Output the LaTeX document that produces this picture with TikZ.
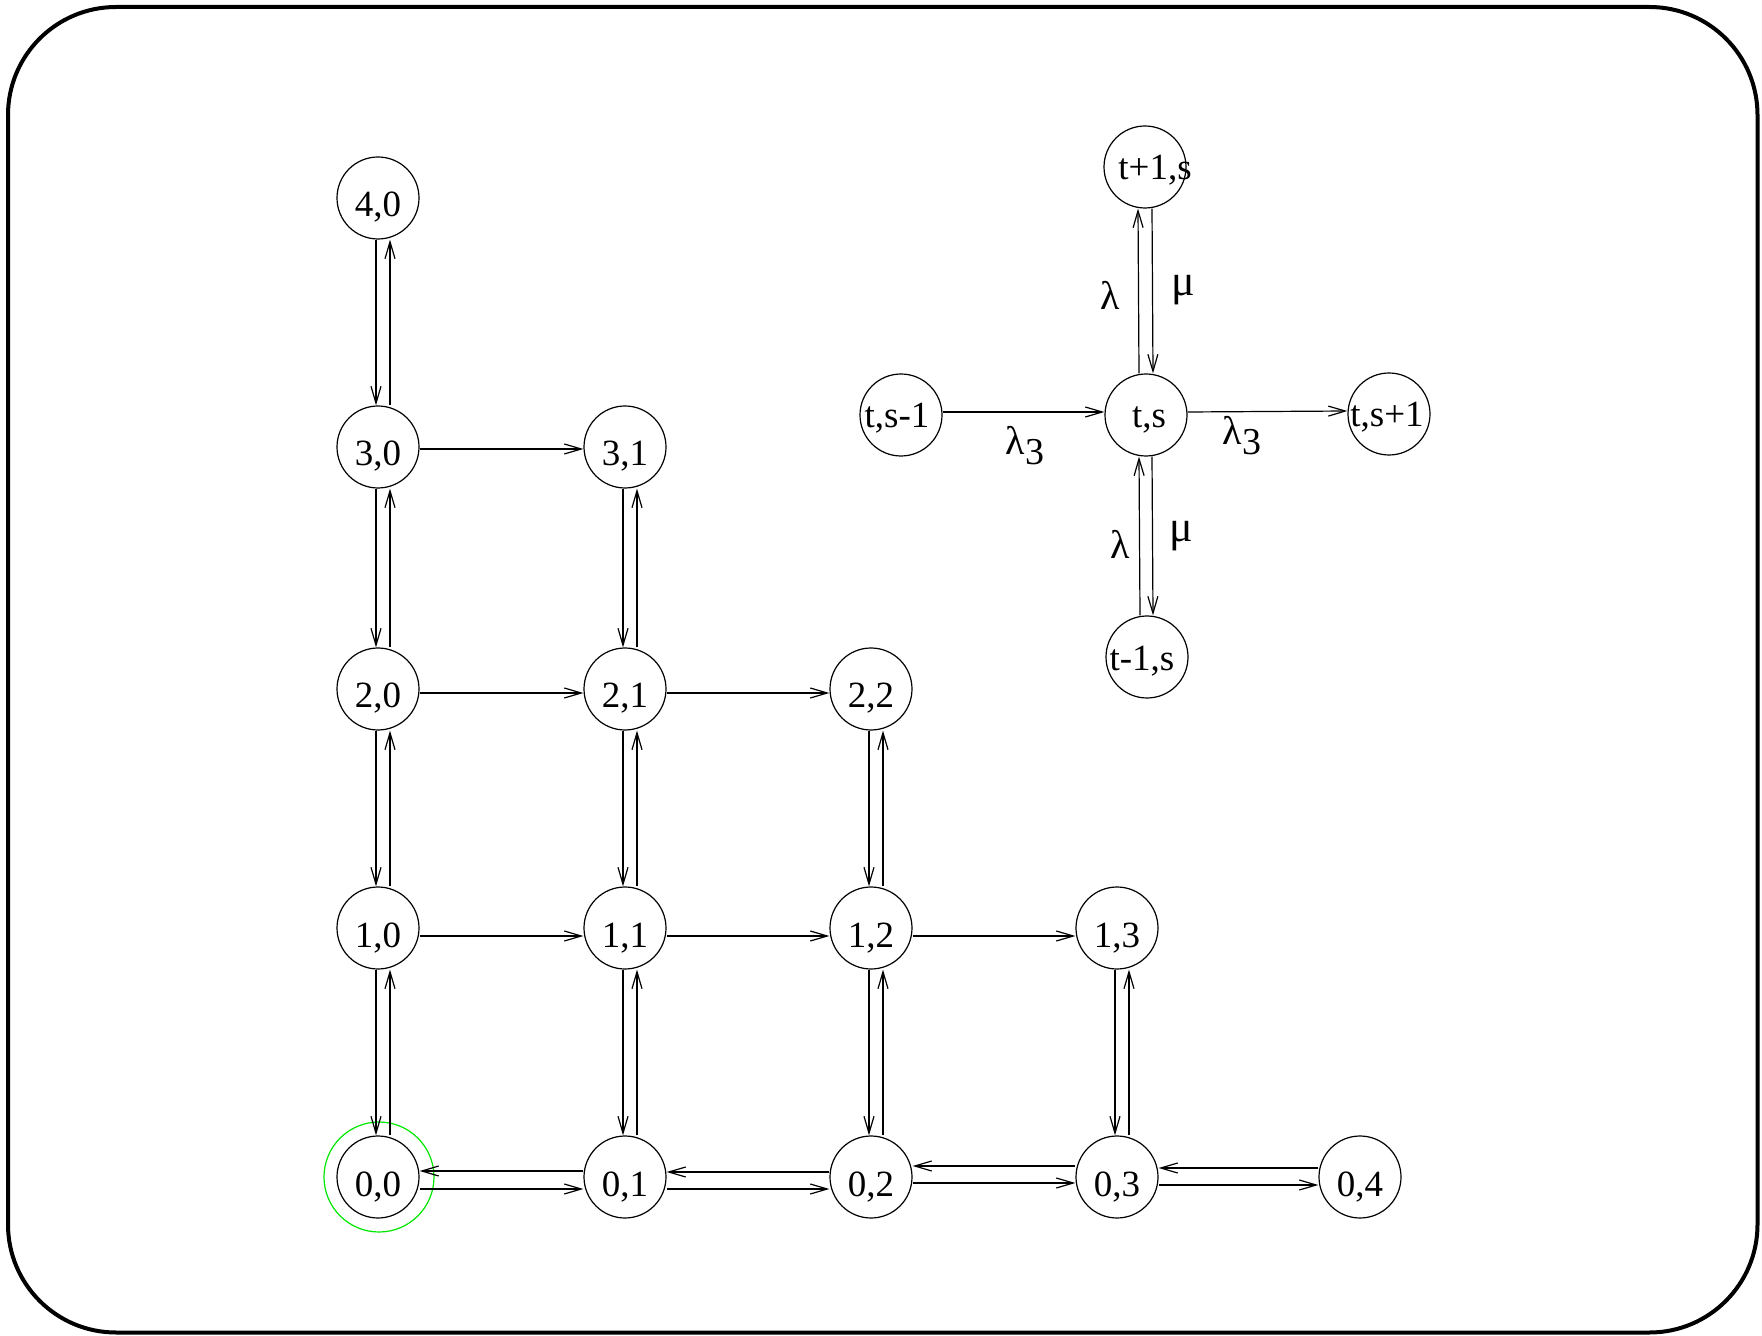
\documentclass[tikz,border=0pt]{standalone}
\usepackage{fontspec}
\setmainfont{Liberation Serif}
\usetikzlibrary{arrows.meta}

% rate label with a lowered 3
\newcommand{\lamthree}{λ\raisebox{-5pt}{\fontsize{19pt}{20pt}\selectfont 3}}
% text shifted sideways inside a fixed-size circle
\newcommand{\shifted}[2]{\makebox[0pt]{\hspace*{#1}#2}}

\begin{document}
\begin{tikzpicture}[x=0.5pt,y=-0.5pt,
  line width=0.6pt,
  >={Straight Barb[length=8.5pt,width=5pt]},
  gridstate/.style={circle,draw,minimum size=41pt,inner sep=0pt,
    text height=19pt,text depth=0pt,font=\fontsize{18.5pt}{20pt}\selectfont},
  crossstate/.style={gridstate,text height=13pt,font=\fontsize{18.5pt}{20pt}\selectfont},
  ratelabel/.style={inner sep=0pt,font=\fontsize{20pt}{22pt}\selectfont},
  mulabel/.style={inner sep=0pt,font=\fontsize{22pt}{24pt}\selectfont},
  outerframe/.style={line width=2pt,rounded corners=54pt},
  startring/.style={circle,draw={rgb,255:red,0;green,230;blue,0},line width=0.6pt,
    minimum size=55pt,inner sep=0pt}
]
\useasboundingbox (0,0) rectangle (1762,1336);
\draw[outerframe] (8,7) rectangle (1757.5,1332.5);

% ---- state grid ----
\node[gridstate] (n40) at (378,198)  {4,0};
\node[gridstate] (n30) at (378,447)  {3,0};
\node[gridstate] (n31) at (625,447)  {3,1};
\node[gridstate] (n20) at (378,689)  {2,0};
\node[gridstate] (n21) at (625,689)  {2,1};
\node[gridstate] (n22) at (871,689)  {2,2};
\node[gridstate] (n10) at (378,928)  {1,0};
\node[gridstate] (n11) at (625,928)  {1,1};
\node[gridstate] (n12) at (871,928)  {1,2};
\node[gridstate] (n13) at (1117,928) {1,3};
\node[gridstate] (n00) at (378,1177) {0,0};
\node[gridstate] (n01) at (625,1177) {0,1};
\node[gridstate] (n02) at (871,1177) {0,2};
\node[gridstate] (n03) at (1117,1177) {0,3};
\node[gridstate] (n04) at (1360,1177) {0,4};
\node[startring] (ring) at (379,1177) {};

% vertical transitions: down on the left, up on the right
\foreach \a/\b in {n40/n30,n30/n20,n20/n10,n10/n00,
                   n31/n21,n21/n11,n11/n01,
                   n22/n12,n12/n02,
                   n13/n03} {
  \draw[->] ([xshift=-1pt]\a.south) -- ([xshift=-1pt]\b.north);
  \draw[->] ([xshift=6pt]\b.north) -- ([xshift=6pt]\a.south);
}

% horizontal transitions
\draw[->] ([yshift=-1pt]n30.east) -- ([yshift=-1pt]n31.west);
\draw[->] ([yshift=-2pt]n20.east) -- ([yshift=-2pt]n21.west);
\draw[->] ([yshift=-2pt]n21.east) -- ([yshift=-2pt]n22.west);
\draw[->] ([yshift=-4pt]n10.east) -- ([yshift=-4pt]n11.west);
\draw[->] ([yshift=-4pt]n11.east) -- ([yshift=-4pt]n12.west);
\draw[->] ([yshift=-4pt]n12.east) -- ([yshift=-4pt]n13.west);

% bottom row: both directions
\draw[->] ([yshift=-6pt]n00.east) -- ([yshift=-6pt]n01.west);
\draw[->] ([yshift=3pt]n01.west) -- ([yshift=3pt]n00.east);
\draw[->] ([yshift=-6pt]n01.east) -- ([yshift=-6pt]n02.west);
\draw[->] ([yshift=2.5pt]n02.west) -- ([yshift=2.5pt]n01.east);
\draw[->] ([yshift=-3pt]n02.east) -- ([yshift=-3pt]n03.west);
\draw[->] ([yshift=5.5pt]n03.west) -- ([yshift=5.5pt]n02.east);
\draw[->] ([yshift=-4pt]n03.east) -- ([yshift=-4pt]n04.west);
\draw[->] ([yshift=4.5pt]n04.west) -- ([yshift=4.5pt]n03.east);

% ---- generic neighbourhood of a state ----
\node[crossstate] (ts) at (1146,415) {\shifted{3pt}{t,s}};
\node[crossstate] (tp) at (1145,167) {\shifted{10pt}{t+1,s}};
\node[crossstate] (tm) at (1147,657) {\shifted{-5pt}{t-1,s}};
\node[crossstate] (sm) at (901,415)  {\shifted{-4pt}{t,s-1}};
\node[crossstate] (sp) at (1389,414) {\shifted{-2pt}{t,s+1}};

\draw[->] ([yshift=1.5pt]sm.east) -- ([yshift=1.5pt]ts.west);
\draw[->] ([yshift=1.5pt]ts.east) -- ([yshift=1.5pt]sp.west);
\draw[->] ([xshift=-3.5pt]ts.north) -- ([xshift=-3.5pt]tp.south);
\draw[->] ([xshift=3.5pt]tp.south) -- ([xshift=3.5pt]ts.north);
\draw[->] ([xshift=-3.5pt]tm.north) -- ([xshift=-3.5pt]ts.south);
\draw[->] ([xshift=3pt]ts.south) -- ([xshift=3pt]tm.north);

\node[ratelabel] (lamup) at (1110,295) {λ};
\node[mulabel]   (muup)  at (1183,290) {μ};
\node[ratelabel] (lamdn) at (1120,544) {λ};
\node[mulabel]   (mudn)  at (1181,536) {μ};
\node[ratelabel] (lamleft)  at (1025,446) {\lamthree};
\node[ratelabel] (lamright) at (1242,436) {\lamthree};
\end{tikzpicture}
\end{document}
